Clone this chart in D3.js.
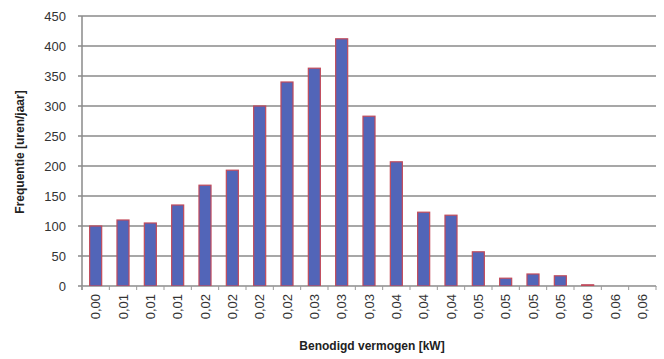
<!DOCTYPE html>
<html><head><meta charset="utf-8">
<script src="https://cdn.jsdelivr.net/npm/d3@7"></script>
<style>body{margin:0;background:#fff}svg{display:block}</style>
</head><body><svg id="c" width="664" height="359"></svg>
<script>
const categories = ["0,00","0,01","0,01","0,01","0,02","0,02","0,02","0,02","0,03","0,03","0,03","0,04","0,04","0,04","0,05","0,05","0,05","0,05","0,06","0,06","0,06"];
const values = [100,110,105,135,168,193,300,340,363,412,283,207,123,118,57,13,20,17,2,0,0];
const yTicks = [0,50,100,150,200,250,300,350,400,450];

const svg = d3.select("#c");
const m = {l:82, r:8, t:16, b:73};
const W = 664, H = 359;
const x = d3.scaleBand().domain(d3.range(categories.length)).range([m.l, W-m.r]).paddingInner(0.56).paddingOuter(0.28);
const y = d3.scaleLinear().domain([0,450]).range([H-m.b, m.t]);

// gridlines
svg.append("g").selectAll("line").data(yTicks).join("line")
  .attr("x1", m.l-4).attr("x2", W-m.r)
  .attr("y1", d=>y(d)).attr("y2", d=>y(d))
  .attr("stroke", "#8a8a8a").attr("stroke-width", 1.5);

// y axis labels
const yAxis = d3.axisLeft(y).tickValues(yTicks).tickSize(0).tickPadding(12);
const ga = svg.append("g").attr("transform", `translate(${m.l-4},0)`).call(yAxis);
ga.select(".domain").remove();
ga.selectAll("text").attr("font-family","Liberation Sans, Arial, sans-serif").attr("font-size",13).attr("fill","#333");

// axis lines
svg.append("line").attr("x1", m.l).attr("x2", m.l).attr("y1", y(450)).attr("y2", y(0)+4).attr("stroke","#8a8a8a").attr("stroke-width",1.5);

// bars
svg.append("g").selectAll("rect").data(values).join("rect")
  .attr("x", (d,i)=>x(i)).attr("width", x.bandwidth())
  .attr("y", d=>y(d)).attr("height", d=>y(0)-y(d))
  .attr("fill", "#5265b8").attr("stroke", "#c24a5a").attr("stroke-width", 1.2);

// x axis
const step = x.step();
const xAxis = d3.axisBottom(x).tickFormat(i=>categories[i]).tickSize(0).tickPadding(8);
const gx = svg.append("g").attr("transform", `translate(0,${y(0)})`).call(xAxis);
gx.select(".domain").attr("stroke","#aaa").attr("stroke-width",1);
gx.selectAll("text")
  .attr("font-family","Liberation Sans, Arial, sans-serif").attr("font-size",13).attr("fill","#333")
  .attr("transform","rotate(-90)").attr("text-anchor","end").attr("dy","0.35em").attr("x",-8).attr("y",0);
// minor ticks between categories
svg.append("g").selectAll("line").data(d3.range(categories.length+1)).join("line")
  .attr("x1", i=>m.l + (W-m.r-m.l)*i/categories.length).attr("x2", i=>m.l + (W-m.r-m.l)*i/categories.length)
  .attr("y1", y(0)).attr("y2", y(0)+4).attr("stroke","#999").attr("stroke-width",1);

// titles
svg.append("text").attr("x", 372).attr("y", 350).attr("text-anchor","middle")
  .attr("font-family","Liberation Sans, Arial, sans-serif").attr("font-size",12).attr("font-weight","bold").attr("fill","#222")
  .text("Benodigd vermogen [kW]");
svg.append("text").attr("transform","translate(24,152) rotate(-90)").attr("text-anchor","middle")
  .attr("font-family","Liberation Sans, Arial, sans-serif").attr("font-size",12).attr("font-weight","bold").attr("fill","#222")
  .text("Frequentie [uren/jaar]");
</script></body></html>
